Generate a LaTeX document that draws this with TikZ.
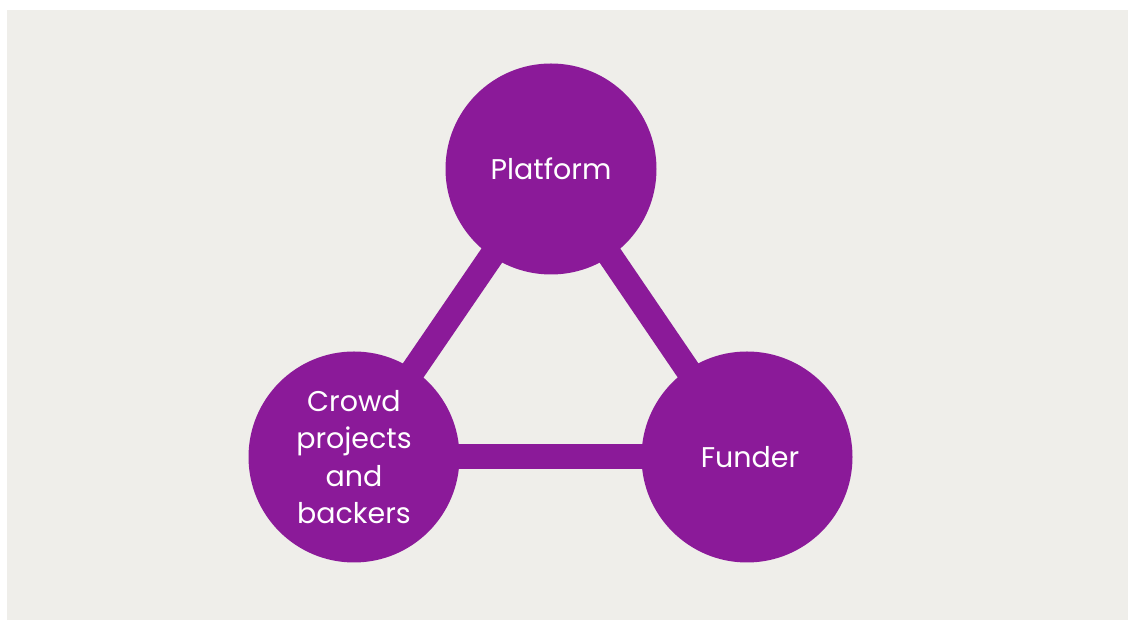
\documentclass[tikz,border=0pt]{standalone}
\usepackage{fontspec}
\setmainfont{Poppins}
\usetikzlibrary{backgrounds}
\definecolor{bgray}{HTML}{EFEEEA}
\definecolor{violet}{HTML}{8B1A99}

\begin{document}
\begin{tikzpicture}[
  x=1pt, y=1pt,
  party/.style={circle, fill=violet, minimum size=211pt, inner sep=0pt, text=white, align=center, font=\fontsize{28.5}{37.5}\selectfont},
  link/.style={violet, line width=25pt},
]

\useasboundingbox (0,0) rectangle (1128,620);

\node (platform) [party] at (551,451) {Platform};
\node (crowd) [party] at (354,163) {Crowd\\projects\\and\\backers};
\node (funder) [party] at (747,163) {\hspace*{6pt}Funder};

\begin{scope}[on background layer]
  \fill[bgray] (7,0) rectangle (1128,610);
  \draw[link] (platform.center) -- (crowd.center);
  \draw[link] (platform.center) -- (funder.center);
  \draw[link] (crowd.center) -- (funder.center);
\end{scope}

\end{tikzpicture}
\end{document}
